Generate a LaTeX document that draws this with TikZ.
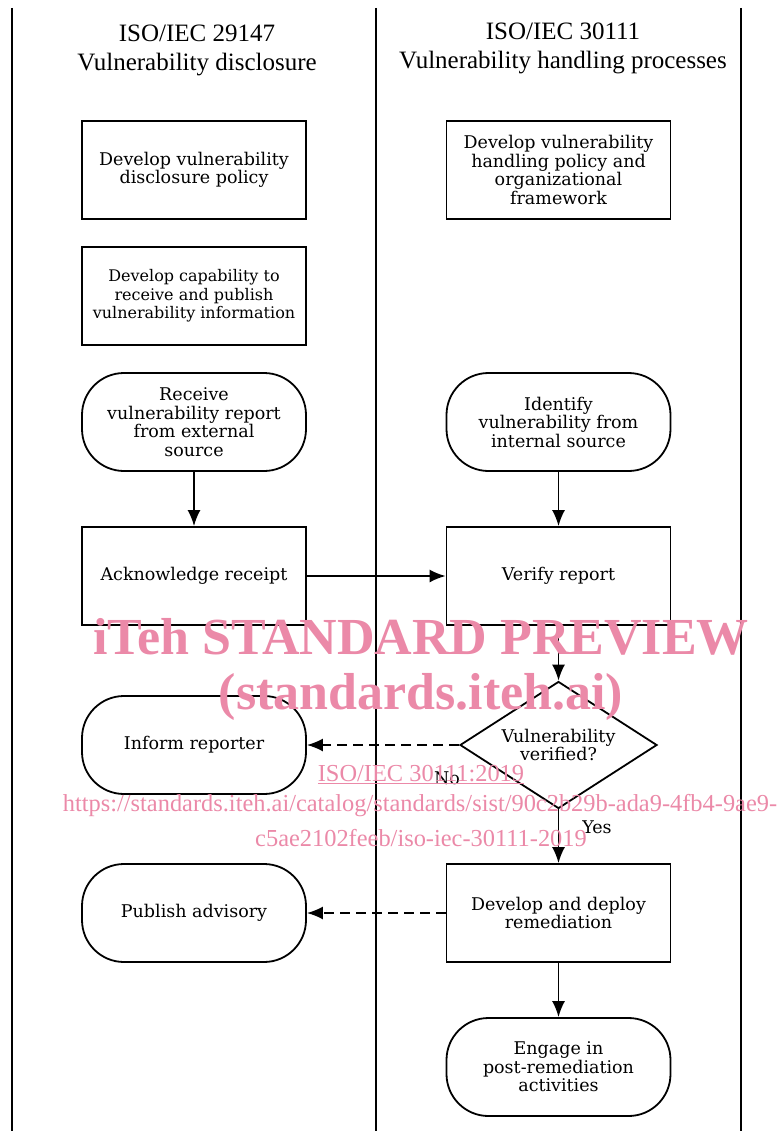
\documentclass[tikz,border=0pt]{standalone}
\usepackage{fontspec}
\setmainfont{Liberation Serif}
\newfontfamily\boxfont{DejaVu Serif}
\usetikzlibrary{arrows.meta,shapes.geometric}
\definecolor{wm}{RGB}{235,137,168}
\tikzset{
  lane/.style={line width=1.8pt},
  procbox/.style={draw,line width=1.8pt,minimum width=224pt,minimum height=98pt,align=center,
    font=\boxfont\fontsize{17.5}{18.5}\selectfont,inner sep=2pt},
  termbox/.style={procbox,rounded corners=42pt},
  decbox/.style={draw,diamond,line width=1.8pt,aspect=1.55,minimum width=197pt,minimum height=127pt,
    inner sep=0pt,align=center,font=\boxfont\fontsize{17.5}{18.5}\selectfont},
  flow/.style={line width=1.8pt,-{Latex[length=16pt,width=13pt]}},
  dflow/.style={flow,dash pattern=on 10pt off 6pt},
  hdr/.style={align=center,font=\fontsize{25}{29}\selectfont},
  lbl/.style={font=\boxfont\fontsize{17.5}{18.5}\selectfont,inner sep=0pt},
  wmark/.style={text=wm,inner sep=0pt}
}
\begin{document}
\begin{tikzpicture}[x=1pt,y=-1pt]
\useasboundingbox (0,0) rectangle (781,1131);
% swimlane lines
\coordinate (l1t) at (12,8);   \coordinate (l1b) at (12,1131);
\coordinate (l2t) at (376,8);  \coordinate (l2b) at (376,1131);
\coordinate (l3t) at (741,8);  \coordinate (l3b) at (741,1131);
\draw[lane] (l1t) -- (l1b);
\draw[lane] (l2t) -- (l2b);
\draw[lane] (l3t) -- (l3b);
% headers
\node[hdr] (h1) at (197,50) {ISO/IEC 29147\\Vulnerability disclosure};
\node[hdr] (h2) at (563,48.5) {ISO/IEC 30111\\Vulnerability handling processes};
% left lane
\node[procbox] (b1) at (194,170) {Develop vulnerability\\disclosure policy};
\node[procbox,font=\boxfont\fontsize{16}{18.5}\selectfont] (b2) at (194,296) {Develop capability to\\receive and publish\\vulnerability information};
\node[termbox] (t1) at (194,422) {Receive\\vulnerability report\\from external\\source};
\node[procbox] (ack) at (194,576) {Acknowledge receipt};
\node[termbox] (inf) at (194,745) {Inform reporter};
\node[termbox] (pub) at (194,913) {Publish advisory};
% right lane
\node[procbox] (r1) at (558.5,170) {Develop vulnerability\\handling policy and\\organizational\\framework};
\node[termbox] (idf) at (558.5,422) {Identify\\vulnerability from\\internal source};
\node[procbox] (ver) at (558.5,576) {Verify report};
\node[decbox] (dec) at (558.5,745) {Vulnerability\\verified?};
\node[procbox] (dev) at (558.5,913) {Develop and deploy\\remediation};
\node[termbox] (eng) at (558.5,1067) {Engage in\\post-remediation\\activities};
% connectors
\draw[flow] (t1) -- (ack);
\draw[flow] (ack) -- (ver);
\draw[flow] (idf) -- (ver);
\draw[flow] (ver) -- (dec);
\draw[flow] (dec) -- (dev);
\draw[dflow] (dec) -- (inf);
\draw[dflow] (dev) -- (pub);
\draw[flow] (dev) -- (eng);
\node[lbl] (no) at (447,778) {No};
\node[lbl] (yes) at (597,827) {Yes};
% watermark
\node[wmark,font=\bfseries\fontsize{52}{52}\selectfont] (w1) at (421,637) {iTeh STANDARD PREVIEW};
\node[wmark,font=\bfseries\fontsize{52}{52}\selectfont] (w2) at (421,697) {(standards.iteh.ai)};
\node[wmark,font=\fontsize{24.4}{25}\selectfont] (w3) at (421,775) {\underline{ISO/IEC 30111:2019}};
\node[wmark,font=\fontsize{24.4}{25}\selectfont] (w4) at (420,806) {https://standards.iteh.ai/catalog/standards/sist/90c2b29b-ada9-4fb4-9ae9-};
\node[wmark,font=\fontsize{24.4}{25}\selectfont] (w5) at (421,838) {c5ae2102feeb/iso-iec-30111-2019};
\end{tikzpicture}
\end{document}
